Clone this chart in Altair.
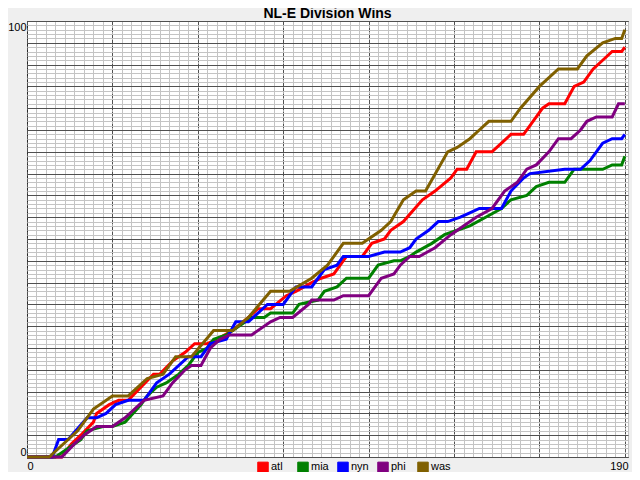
import altair as alt
import pandas as pd

teams = ["atl", "mia", "nyn", "phi", "was"]
colors = ["#FF0000", "#008000", "#0000FF", "#800080", "#806000"]

atl_days = [0,11,14,17,21,22,26,29,32,36,40,42,46,50,53,57,60,65,70,73,77,82,85,90,93,97,101,106,109,113,115,119,125,129,134,136,139,142,147,150,153,157,159,163,165,170,173,176,179,182,185,188,189]
atl_wins = [0,0,3,5,8,10,12,13,13,16,19,19,22,24,26,26,27,29,32,34,34,37,38,40,41,42,46,46,49,50,52,54,59,61,64,66,66,70,70,72,74,74,76,80,81,81,85,86,89,91,93,93,94]

mia_days = [0,9,15,17,19,24,27,31,36,38,41,44,48,51,54,57,59,63,65,71,75,77,84,86,92,94,98,101,108,111,116,118,121,123,128,132,136,140,145,150,153,158,161,165,170,173,175,182,185,188,189]
mia_wins = [0,0,3,4,6,7,7,8,12,14,16,17,19,21,24,25,27,28,29,32,32,33,33,35,36,38,39,41,41,44,45,45,46,47,49,51,52,53,55,57,59,60,62,63,63,66,66,66,67,67,69]

nyn_days = [0,8,10,13,19,22,25,28,32,37,41,45,51,55,58,63,66,70,76,81,85,90,94,98,100,108,113,118,121,123,127,130,133,137,140,143,150,153,157,159,170,175,178,182,185,188,189]
nyn_wins = [0,0,4,4,9,9,10,12,13,13,17,19,23,23,26,27,31,31,35,35,39,39,43,44,46,46,47,47,48,50,52,54,54,55,56,57,57,61,64,65,66,66,68,72,73,73,74]

phi_days = [0,11,15,18,22,27,31,34,37,43,46,50,52,55,58,61,64,71,77,80,84,89,90,97,100,108,112,116,118,121,124,129,134,138,142,147,151,155,158,161,165,168,172,175,177,180,185,187,189]
phi_wins = [0,0,3,5,7,7,9,11,13,14,17,20,21,21,25,27,28,28,31,32,32,35,36,36,37,37,41,42,44,46,46,48,51,53,55,57,61,63,66,67,70,73,73,75,77,78,78,81,81]

was_days = [0,7,16,21,27,32,38,43,47,52,59,65,70,77,83,90,95,100,106,112,115,119,123,126,133,136,140,143,146,153,156,162,168,174,177,182,186,188,189]
was_wins = [0,0,6,11,14,14,18,19,23,23,29,29,32,38,38,41,44,49,49,52,54,59,61,61,70,71,73,75,77,77,80,85,89,89,92,95,96,96,98]

x_ticks = list(range(0, 190, 3)) + [190]
y_ticks = list(range(0, 101))

series = {
    "atl": (atl_days, atl_wins),
    "mia": (mia_days, mia_wins),
    "nyn": (nyn_days, nyn_wins),
    "phi": (phi_days, phi_wins),
    "was": (was_days, was_wins),
}
rows = []
for t in teams:
    d, w = series[t]
    for i, (a, b) in enumerate(zip(d, w)):
        rows.append({"team": t, "day": a, "wins": b, "order": i})
df = pd.DataFrame(rows)

FONT = "Liberation Sans"
MINOR = "#C4C4C4"
MAJOR = "#505050"

x_enc = alt.X(
    "day:Q",
    scale=alt.Scale(domain=[0, 190], nice=False, zero=True),
    axis=alt.Axis(
        values=x_ticks,
        labelExpr="datum.value == 0 || datum.value == 190 ? datum.label : ''",
        labelFlush=True,
        labelOverlap=False,
        ticks=False,
        domain=False,
        title=None,
        grid=True,
        gridColor={"condition": {"test": "datum.value % 27 == 0", "value": MAJOR}, "value": MINOR},
        gridDash={"condition": {"test": "datum.value % 27 == 0", "value": [5, 1]}, "value": []},
        labelFont=FONT,
        labelFontSize=11,
        labelColor="black",
        labelPadding=3,
    ),
)
y_enc = alt.Y(
    "wins:Q",
    scale=alt.Scale(domain=[0, 100], nice=False, zero=True),
    axis=alt.Axis(
        values=y_ticks,
        labelExpr="datum.value == 0 || datum.value == 100 ? datum.label : ''",
        labelFlush=True,
        labelOverlap=False,
        ticks=False,
        domain=False,
        title=None,
        grid=True,
        gridColor={"condition": {"test": "datum.value % 5 == 0", "value": MAJOR}, "value": MINOR},
        labelFont=FONT,
        labelFontSize=11,
        labelColor="black",
        labelPadding=1,
    ),
)
color_scale = alt.Scale(domain=teams, range=colors)

legend = alt.Legend(
    orient="none",
    legendX=230,
    legendY=440,
    direction="horizontal",
    title=None,
    symbolType="square",
    symbolSize=110,
    symbolStrokeColor="black",
    symbolStrokeWidth=1,
    symbolOpacity=1,
    labelFont=FONT,
    labelFontSize=11,
    labelColor="black",
    labelOffset=2,
    gridAlign="all",
    columnPadding=4,
    padding=0,
)

# legend-only layer: no rows survive the filter, so it draws nothing
legend_layer = alt.Chart(df).transform_filter("datum.day < 0").mark_square(
    size=110, opacity=1, filled=True, stroke="black", strokeWidth=1
).encode(
    x=x_enc,
    y=y_enc,
    color=alt.Color("team:N", scale=color_scale, legend=legend),
)

lines = alt.Chart(df).mark_line(strokeWidth=3).encode(
    x=x_enc,
    y=y_enc,
    color=alt.Color("team:N", scale=color_scale, legend=None),
    order="order:Q",
)

chart = alt.layer(legend_layer, lines).properties(
    width=601,
    height=436,
    title=alt.TitleParams(
        "NL-E Division Wins",
        font=FONT,
        fontSize=14,
        fontWeight="bold",
        color="black",
        anchor="middle",
        offset=-2,
    ),
    autosize=alt.AutoSizeParams(type="none"),
    padding={"left": 19, "top": 13, "right": 4, "bottom": 15},
    background="#EFEFEF",
).configure_view(fill="white", stroke="black", strokeWidth=1)

chart.save("out.html", embed_options={"renderer": "svg", "actions": False})
